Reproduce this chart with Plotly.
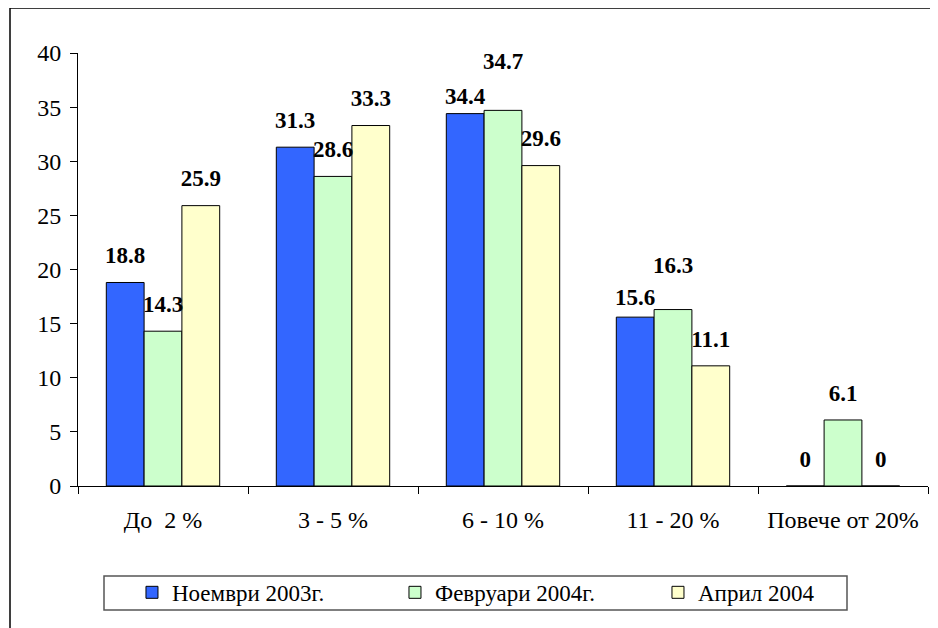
import plotly.graph_objects as go

categories = ["До  2 %", "3 - 5 %", "6 - 10 %", "11 - 20 %", "Повече от 20%"]
series_names = ["Ноември 2003г.", "Февруари 2004г.", "Април 2004"]
nov_2003 = [18.8, 31.3, 34.4, 15.6, 0]
feb_2004 = [14.3, 28.6, 34.7, 16.3, 6.1]
apr_2004 = [25.9, 33.3, 29.6, 11.1, 0]
colors = ["#3366FF", "#CCFFCC", "#FFFFCC"]
y_ticks = [0, 5, 10, 15, 20, 25, 30, 35, 40]

# style: per-label padding (invisible marker size) to mimic hand-placed labels
label_pad = [
    [20, 20, 4, 8, 20],
    [20, 20, 56, 48, 20],
    [20, 20, 20, 20, 20],
]

FONT = "Liberation Serif, Times New Roman, serif"
series = [nov_2003, feb_2004, apr_2004]

fig = go.Figure()
for name, vals, col in zip(series_names, series, colors):
    fig.add_trace(go.Bar(
        x=categories, y=vals, name=name,
        marker=dict(color=col, line=dict(color="black", width=1)),
        hoverinfo="skip",
    ))
for name, vals, pad in zip(series_names, series, label_pad):
    fig.add_trace(go.Scatter(
        x=categories, y=vals, mode="markers+text",
        text=[f"{v:g}" for v in vals], textposition="top center",
        textfont=dict(family=FONT, size=23, color="black", weight="bold"),
        marker=dict(size=pad, opacity=0),
        showlegend=False, hoverinfo="skip", cliponaxis=False,
    ))

# plot area: 850 x 433 px
fig.update_layout(
    template="none",
    width=938, height=628,
    margin=dict(l=70, r=18, t=45, b=150, autoexpand=False),
    paper_bgcolor="white", plot_bgcolor="white",
    barmode="group", bargap=0.333, bargroupgap=0,
    scattermode="group", scattergap=0.333,
    font=dict(family=FONT, size=24, color="black"),
    showlegend=True,
    legend=dict(
        orientation="h", x=0.0635, xanchor="left", y=-0.196, yanchor="top",
        bgcolor="rgba(0,0,0,0)", borderwidth=0,
        font=dict(family=FONT, size=23, color="black"),
        entrywidth=218, entrywidthmode="pixels",
        traceorder="normal",
    ),
    xaxis=dict(
        showline=True, linecolor="black", linewidth=1,
        ticks="outside", ticklen=7, tickcolor="black", tickson="boundaries",
        tickfont=dict(family=FONT, size=24), ticklabelstandoff=12,
        showgrid=False, zeroline=False, automargin=False,
    ),
    yaxis=dict(
        range=[0, 40], tickvals=y_ticks,
        showline=True, linecolor="black", linewidth=1,
        ticks="outside", ticklen=7, tickcolor="black",
        tickfont=dict(family=FONT, size=24), ticklabelstandoff=4,
        showgrid=False, zeroline=False, automargin=False,
    ),
    shapes=[
        dict(type="rect", xref="paper", yref="paper",
             x0=-0.08, x1=1.3, y0=-0.5, y1=1.104,
             line=dict(color="black", width=1.5), layer="below"),
        # legend frame
        dict(type="rect", xref="paper", yref="paper",
             x0=(104 - 78) / 850, x1=(847 - 78) / 850,
             y0=-(610 - 486) / 433, y1=-(576 - 486) / 433,
             line=dict(color="#555555", width=1.5), fillcolor="white",
             layer="below"),
    ],
)

fig.write_html("out.html")
